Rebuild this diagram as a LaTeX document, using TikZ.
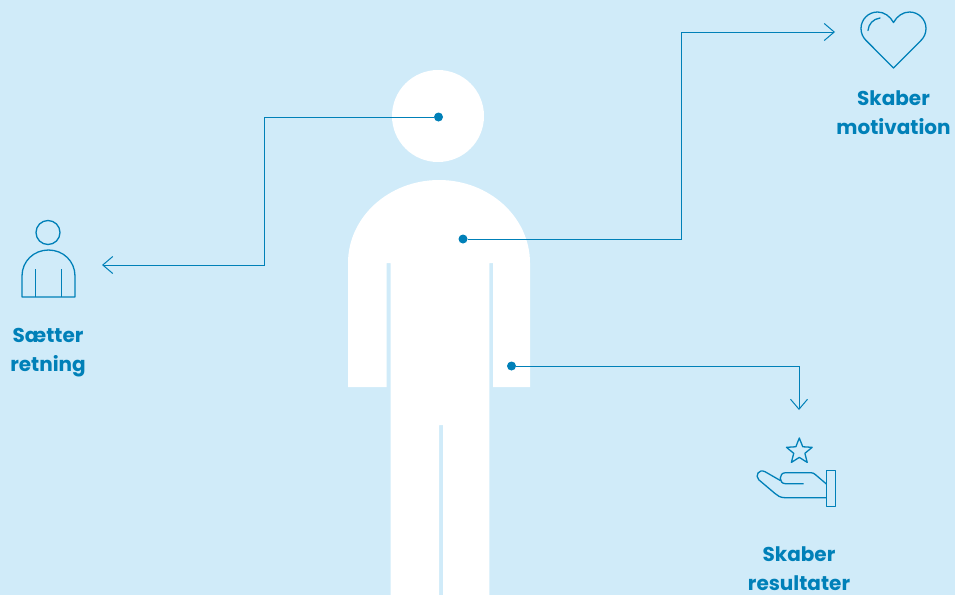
\documentclass[tikz,border=0pt]{standalone}
\usepackage{fontspec}
\setmainfont{Poppins}
\definecolor{lederblue}{RGB}{0,128,184}
\definecolor{lederbg}{RGB}{208,235,249}
\usetikzlibrary{calc,positioning,arrows.meta,shapes.geometric}

\begin{document}
\begin{tikzpicture}[x=1pt,y=-1pt,
                    dot/.style={circle,fill=lederblue,inner sep=0pt,minimum size=9pt},
                    arr/.style={-{Straight Barb[length=10pt,width=17pt]},lederblue,line width=1pt},
                    icon/.style={draw=lederblue,line width=1.3pt,line join=round},
                    lbl/.style={text=lederblue,font=\fontsize{20}{29}\selectfont\bfseries,
                                align=center,inner sep=0pt}]
        \useasboundingbox[fill=lederbg] (0,0) rectangle (955,595);
        % figure
        \fill[white] (438,116) circle (46);
        \fill[white] (348,387) -- (348,263) .. controls (348,217) and (389,180) .. (439,180)
                     .. controls (489,180) and (530,217) .. (530,263) -- (530,387)
                     -- (493,387) -- (493,263) -- (489.3,263) -- (489.3,595) -- (443,595)
                     -- (443,425) -- (439,425) -- (439,595) -- (390.7,595) -- (390.7,263)
                     -- (386.7,263) -- (386.7,387) -- cycle;
        % points on the figure
        \node[dot] (headdot) at (438.5,117) {};
        \node[dot] (chestdot) at (463,239) {};
        \node[dot] (armdot) at (511.5,366) {};
        \coordinate (retningturn) at (264,265);
        \coordinate (retningend) at (102,265);
        \coordinate (motivturn) at (681,32);
        \coordinate (motivend) at (835,32);
        \coordinate (resultend) at (799,410);
        \draw[arr] (headdot) -| (retningturn) -- (retningend);
        \draw[arr] (chestdot) -| (motivturn) -- (motivend);
        \draw[arr] (armdot) -| (resultend);
        % labels
        \node[lbl] (retning) at (48,353) {Sætter\\retning};
        \node[lbl] (motivation) at (893.5,112.5) {Skaber\\motivation};
        \node[lbl] (resultater) at (799,569) {Skaber\\resultater};
        % person icon
        \draw[icon] (48,232.5) circle (12);
        \draw[icon] (22,297) -- (22,276) .. controls (22,261) and (34,250) .. (48.5,250)
                    .. controls (63,250) and (75,261) .. (75,276) -- (75,297) -- cycle;
        \draw[icon] (35.5,269) -- (35.5,297);
        \draw[icon] (61.5,269) -- (61.5,297);
        % heart icon
        \draw[icon] (893.5,68) -- (865.8,40.2) .. controls (862.8,37.2) and (861,33) .. (861,28.5)
                    .. controls (861,19.4) and (868.4,12) .. (877.5,12)
                    .. controls (884,12) and (890,16) .. (893.5,22.5)
                    .. controls (897,16) and (903,12) .. (909.5,12)
                    .. controls (918.6,12) and (926,19.4) .. (926,28.5)
                    .. controls (926,33) and (924.2,37.2) .. (921.2,40.2) -- cycle;
        \draw[icon,line cap=round] (868,30.5) .. controls (868.5,24) and (873,19) .. (880,18);
        % hand icon
        \node[icon,star,star points=5,star point ratio=2.3,minimum size=27pt,inner sep=0pt]
          (star) at (799.3,451.5) {};
        \draw[icon] (826.4,470.7) rectangle (835.7,506.7);
        \draw[icon] (826.4,497.7) -- (785,497.7) .. controls (780,497.7) and (777.5,495.5) .. (775,493.5)
                    -- (758.8,479.8) .. controls (754.5,475.5) and (759,468.5) .. (765,471.7)
                    -- (780.7,480.7);
        \draw[icon] (803.5,483.7) -- (785.5,483.7) .. controls (778.5,483.7) and (778.5,472.7) .. (785.5,472.7)
                    -- (811,472.7) .. controls (813,472.7) and (814,473.5) .. (815.5,474.7) -- (826.4,484);
      \end{tikzpicture}
\end{document}
